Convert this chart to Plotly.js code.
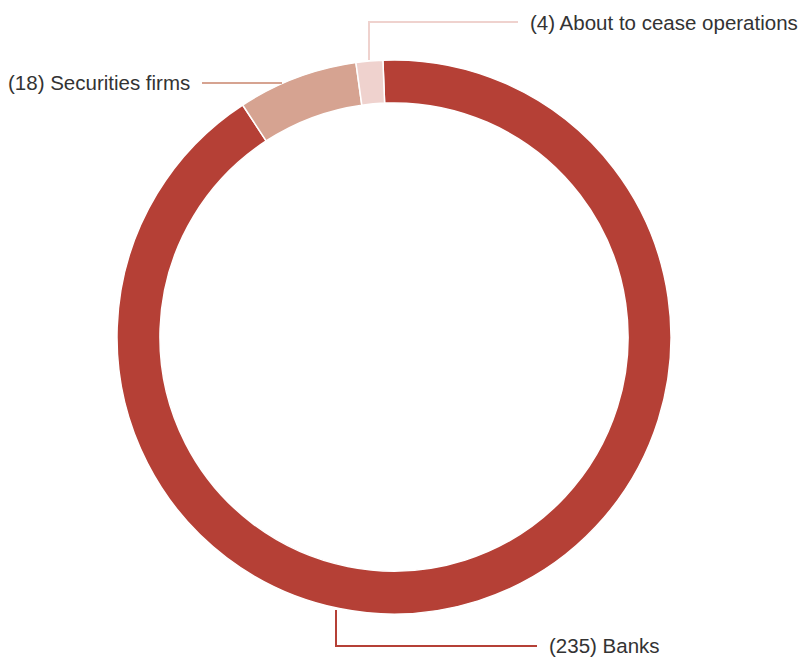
<!DOCTYPE html>
<html>
<head>
<meta charset="utf-8">
<script src="https://cdn.plot.ly/plotly-3.0.1.min.js"></script>
<style>html,body{margin:0;padding:0;background:#fff;}#chart{width:805px;height:657px;}</style>
</head>
<body>
<div id="chart"></div>
<script>
const categories = ["Banks", "Securities firms", "About to cease operations"];
const counts = [235, 18, 4];
const colors = ["#b54036", "#d6a391", "#efd2ce"];
const labelTexts = categories.map((c, i) => "(" + counts[i] + ") " + c);

const W = 805, H = 657;
const px = x => x / W;
const py = y => 1 - y / H;

const trace = {
  type: "pie",
  labels: categories,
  values: counts,
  sort: false,
  direction: "clockwise",
  rotation: -2.3,
  hole: 0.845,
  textinfo: "none",
  hoverinfo: "label+value",
  marker: { colors: colors, line: { color: "#ffffff", width: 1.5 } },
  domain: { x: [px(117), px(671)], y: [py(614), py(60)] },
  showlegend: false
};

const font = { family: "Liberation Sans, Arial, Helvetica, sans-serif", size: 20.5, color: "#333333" };

const layout = {
  width: W, height: H,
  margin: { l: 0, r: 0, t: 0, b: 0 },
  paper_bgcolor: "#ffffff",
  showlegend: false,
  shapes: [
    { type: "path", xref: "paper", yref: "paper",
      path: `M ${px(369)} ${py(60)} L ${px(369)} ${py(22)} L ${px(518)} ${py(22)}`,
      line: { color: colors[2], width: 2 } },
    { type: "line", xref: "paper", yref: "paper",
      x0: px(202), y0: py(83), x1: px(282), y1: py(83),
      line: { color: colors[1], width: 2 } },
    { type: "path", xref: "paper", yref: "paper",
      path: `M ${px(336)} ${py(610)} L ${px(336)} ${py(646)} L ${px(537)} ${py(646)}`,
      line: { color: colors[0], width: 2 } }
  ],
  annotations: [
    { xref: "paper", yref: "paper", x: px(528), y: py(22), xanchor: "left", yanchor: "middle",
      text: labelTexts[2], showarrow: false, font: font },
    { xref: "paper", yref: "paper", x: px(192), y: py(82), xanchor: "right", yanchor: "middle",
      text: labelTexts[1], showarrow: false, font: font },
    { xref: "paper", yref: "paper", x: px(547), y: py(645), xanchor: "left", yanchor: "middle",
      text: labelTexts[0], showarrow: false, font: font }
  ]
};

Plotly.newPlot("chart", [trace], layout, { displayModeBar: false, staticPlot: true });
</script>
</body>
</html>
